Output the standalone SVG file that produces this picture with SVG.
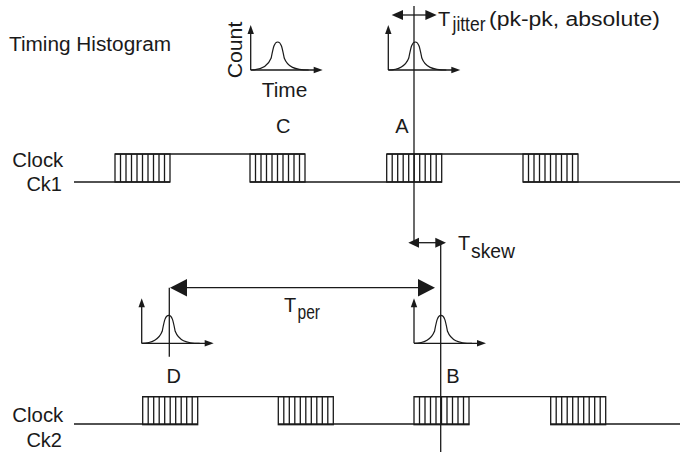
<svg xmlns="http://www.w3.org/2000/svg" width="680" height="453" viewBox="0 0 680 453">
<style>
.ln{fill:none;stroke:#1a1a1a;stroke-width:1.3}
.ax{fill:none;stroke:#1a1a1a;stroke-width:1.3}
.cv{fill:none;stroke:#1a1a1a;stroke-width:1.2}
.hd{fill:#1a1a1a;stroke:none}
.t{font-family:"Liberation Sans",Arial,Helvetica,sans-serif;fill:#1a1a1a;font-size:20px}
</style>
<defs>
<g id="box">
<rect x="0" y="0" width="55" height="28" class="ln"/>
<path class="ln" d="M5.5,0V28M11,0V28M16.5,0V28M22,0V28M27.5,0V28M33,0V28M38.5,0V28M44,0V28M49.5,0V28"/>
</g>
<g id="hist">
<path class="ax" d="M0,0V-38M0,0H64"/>
<path class="hd" d="M0,-45L-3.2,-36H3.2Z"/>
<path class="hd" d="M72,0L63,-3.2V3.2Z"/>
<path class="cv" d="M0,0C10,0 17,-3 20.5,-12C22.5,-22 23.5,-28 27,-28C30.5,-28 31.5,-22 33.5,-12C37,-3 44,0 58,0"/>
</g>
</defs>

<g id="title"><text class="t" x="9" y="51" textLength="162" lengthAdjust="spacingAndGlyphs">Timing Histogram</text></g>

<g id="legend-histogram">
<use href="#hist" x="250.7" y="70"/>
<text class="t" transform="translate(241.5,78.3) rotate(-90)" textLength="56.6" lengthAdjust="spacingAndGlyphs" font-size="21">Count</text>
<text class="t" x="261.7" y="96.7" textLength="45.6" lengthAdjust="spacingAndGlyphs" font-size="21">Time</text>
</g>

<g id="clock-ck1">
<text class="t" x="12.3" y="167" textLength="51" lengthAdjust="spacingAndGlyphs">Clock</text>
<text class="t" x="62" y="191" text-anchor="end">Ck1</text>
<path class="ln" d="M74,182H170M115,154H305M250,182H442M387,154H578M523,182H680"/>
<use href="#box" x="115" y="154"/>
<use href="#box" x="250" y="154"/>
<use href="#box" x="386.7" y="154"/>
<use href="#box" x="523" y="154"/>
</g>

<g id="clock-ck2">
<text class="t" x="12.3" y="421.7" textLength="51" lengthAdjust="spacingAndGlyphs">Clock</text>
<text class="t" x="62" y="446.7" text-anchor="end">Ck2</text>
<path class="ln" d="M74,424H197.7M142.3,396.7H332.7M278.3,424H469.3M414,396.7H605.3M550.7,424H680"/>
<use href="#box" x="142.7" y="396.7"/>
<use href="#box" x="278.3" y="396.7"/>
<use href="#box" x="414" y="396.7"/>
<use href="#box" x="550.7" y="396.7"/>
</g>

<g id="node-C"><text class="t" x="283.3" y="133.3" text-anchor="middle">C</text></g>
<g id="node-A">
<use href="#hist" x="388.3" y="70"/>
<text class="t" x="402" y="133.3" text-anchor="middle">A</text>
</g>
<g id="node-D">
<use href="#hist" x="141.7" y="343.3"/>
<text class="t" x="173.8" y="382.7" text-anchor="middle">D</text>
</g>
<g id="node-B">
<use href="#hist" x="414" y="343.3"/>
<text class="t" x="453" y="382.7" text-anchor="middle">B</text>
</g>

<g id="connectors">
<path class="ln" d="M414,6V243"/>
<path class="ln" d="M440.7,243V452"/>
<path class="ln" d="M169.3,287.7V356.7"/>
<path class="ln" d="M400,15H428"/>
<path class="hd" d="M391.7,15L403,10V20Z"/>
<path class="hd" d="M436.7,15L425.4,10V20Z"/>
<path class="ln" d="M416,242.7H438"/>
<path class="hd" d="M408.3,242.7L419,237.7V247.7Z"/>
<path class="hd" d="M446,242.7L435.3,237.7V247.7Z"/>
<path class="ln" d="M180,287.7H425"/>
<path class="hd" d="M170,287.7L187,279V296.4Z"/>
<path class="hd" d="M435,287.7L418,279V296.4Z"/>
</g>

<g id="labels">
<text class="t" x="438" y="25.5" font-size="22">T</text>
<text class="t" x="452.5" y="31" font-size="16" textLength="33" lengthAdjust="spacingAndGlyphs">jitter</text>
<text class="t" x="489" y="25.5" textLength="171" lengthAdjust="spacingAndGlyphs">(pk-pk, absolute)</text>
<text class="t" x="458" y="249.5" font-size="21">T</text>
<text class="t" x="471" y="257.7" font-size="17" textLength="44" lengthAdjust="spacingAndGlyphs">skew</text>
<text class="t" x="284" y="311.7" font-size="22">T</text>
<text class="t" x="297.5" y="319.3" font-size="17" textLength="22.5" lengthAdjust="spacingAndGlyphs">per</text>
</g>
</svg>
